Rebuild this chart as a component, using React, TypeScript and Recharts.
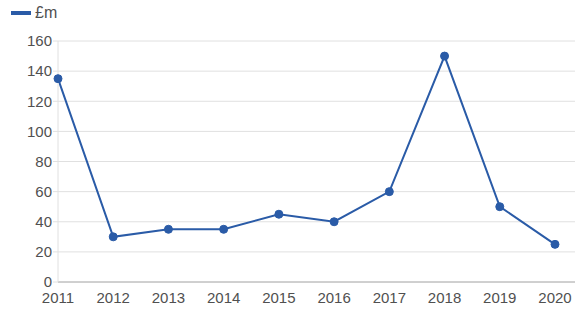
import { CartesianGrid, Line, LineChart, XAxis, YAxis } from "recharts";

const years = ["2011", "2012", "2013", "2014", "2015", "2016", "2017", "2018", "2019", "2020"];
const values = [135, 30, 35, 35, 45, 40, 60, 150, 50, 25];
const yTicks = [0, 20, 40, 60, 80, 100, 120, 140, 160];

const data = years.map((year, i) => ({ year, value: values[i] }));

const lineColor = "#2a5ba7";
const font = "'Liberation Sans', Arial, sans-serif";

export default function App() {
  return (
    <div style={{ position: "absolute", left: 0, top: 0, width: 588, height: 315, background: "#fff" }}>
      {/* legend sits above the plot without taking its space */}
      <div
        style={{
          position: "absolute",
          left: 11,
          top: 4,
          display: "flex",
          alignItems: "center",
          fontFamily: font,
          fontSize: 16,
          color: "#505050"
        }}
      >
        <span style={{ display: "inline-block", width: 20, height: 4, background: lineColor, marginRight: 4 }} />
        <span>£m</span>
      </div>
      <LineChart width={588} height={315} data={data} margin={{ top: 41, right: 13, bottom: 3, left: 0 }}>
        <CartesianGrid stroke="#e0e0e0" vertical={false} />
        <XAxis
          dataKey="year"
          padding={{ left: 0, right: 20 }}
          tickLine={false}
          tickSize={0}
          tickMargin={10}
          height={30}
          stroke="#b0b0b0"
          tick={{ fontSize: 15, fill: "#505050", fontFamily: font }}
          interval={0}
        />
        <YAxis
          domain={[0, 160]}
          ticks={yTicks}
          width={58}
          tickSize={5}
          tickLine={{ stroke: "#e0e0e0" }}
          axisLine={{ stroke: "#e0e0e0" }}
          tickMargin={1}
          tick={{ fontSize: 15, fill: "#505050", fontFamily: font }}
          interval={0}
        />
        <Line
          type="linear"
          dataKey="value"
          stroke={lineColor}
          strokeWidth={2}
          dot={{ r: 4, fill: lineColor, stroke: lineColor, strokeWidth: 1 }}
          isAnimationActive={false}
        />
      </LineChart>
    </div>
  );
}
